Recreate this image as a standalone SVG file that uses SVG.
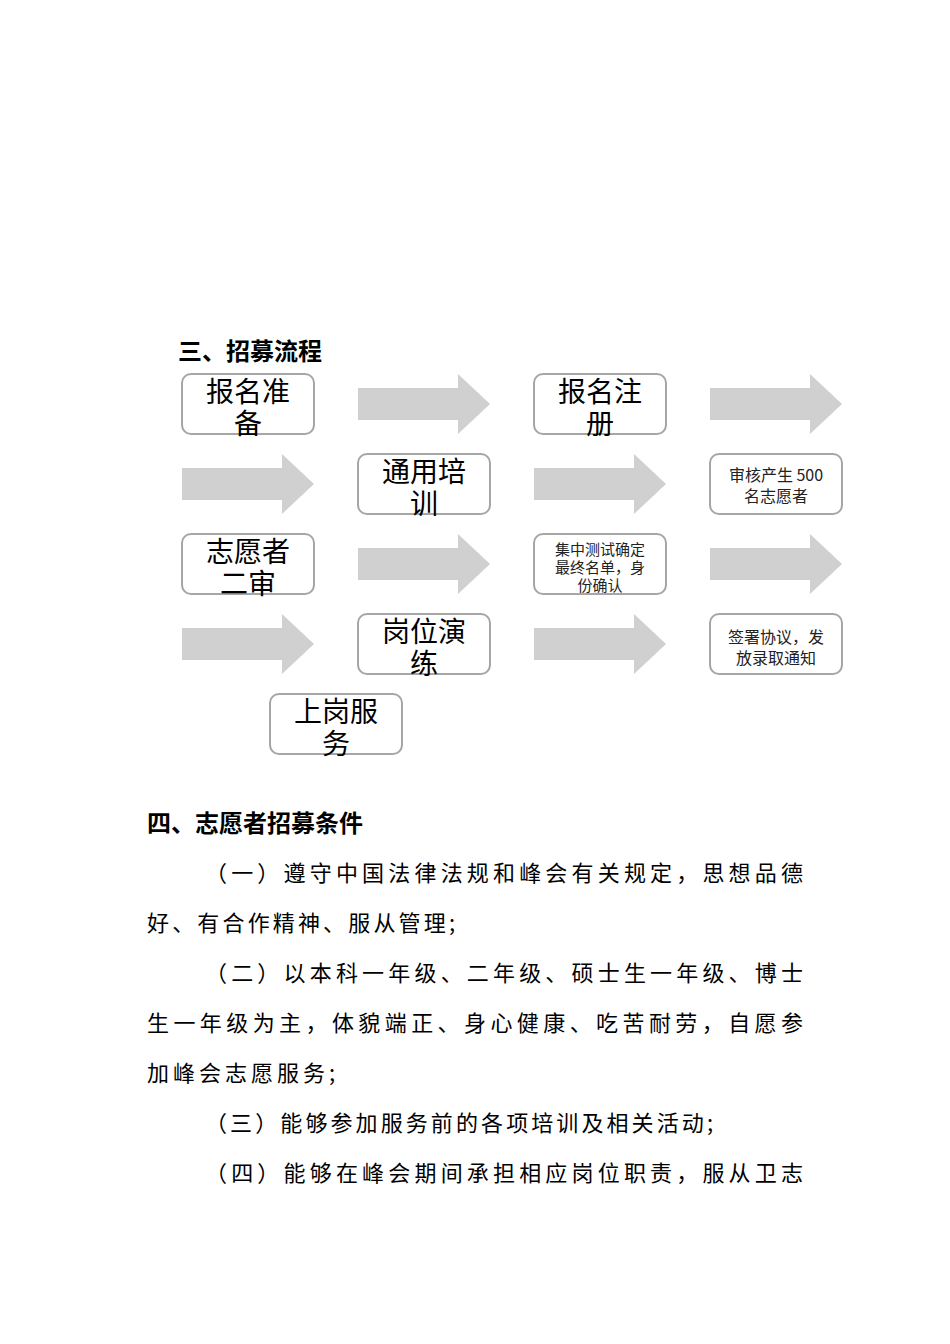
<svg xmlns="http://www.w3.org/2000/svg" width="950" height="1344" viewBox="0 0 950 1344">
<style>
.b{fill:#fff;stroke:#a6a6a6;stroke-width:2}
.a{fill:#d0d0d0}
.L{font-family:"Noto Sans CJK SC",sans-serif;font-size:28px;fill:#000;text-anchor:middle}
.S{font-family:"Noto Sans CJK SC",sans-serif;font-size:16px;fill:#222;text-anchor:middle}
.S3{font-family:"Noto Sans CJK SC",sans-serif;font-size:15px;fill:#222;text-anchor:middle}
.T{font-family:"Noto Sans CJK SC",sans-serif;font-size:22px;fill:#000}
.H{font-family:"Noto Sans CJK SC",sans-serif;font-size:24px;font-weight:bold;fill:#000}
</style>
<defs><path id="ar" class="a" d="M0,14H100V0L132,30L100,60V46H0Z"/></defs>
<text class="H" x="178" y="360">三、招募流程</text>
<g id="connectors">
<use href="#ar" x="358" y="374"/><use href="#ar" x="710" y="374"/>
<use href="#ar" x="182" y="454"/><use href="#ar" x="534" y="454"/>
<use href="#ar" x="358" y="534"/><use href="#ar" x="710" y="534"/>
<use href="#ar" x="182" y="614"/><use href="#ar" x="534" y="614"/>
</g>
<g id="n1"><rect class="b" x="182" y="374" width="132" height="60" rx="9"/><text class="L" x="248" y="402">报名准</text><text class="L" x="248" y="434">备</text></g>
<g id="n2"><rect class="b" x="534" y="374" width="132" height="60" rx="9"/><text class="L" x="600" y="402">报名注</text><text class="L" x="600" y="434">册</text></g>
<g id="n3"><rect class="b" x="358" y="454" width="132" height="60" rx="9"/><text class="L" x="424" y="482">通用培</text><text class="L" x="424" y="514">训</text></g>
<g id="n4"><rect class="b" x="710" y="454" width="132" height="60" rx="9"/><text class="S" x="776" y="481">审核产生 500</text><text class="S" x="776" y="502">名志愿者</text></g>
<g id="n5"><rect class="b" x="182" y="534" width="132" height="60" rx="9"/><text class="L" x="248" y="562">志愿者</text><text class="L" x="248" y="594">二审</text></g>
<g id="n6"><rect class="b" x="534" y="534" width="132" height="60" rx="9"/><text class="S3" x="600" y="555">集中测试确定</text><text class="S3" x="600" y="573">最终名单，身</text><text class="S3" x="600" y="591">份确认</text></g>
<g id="n7"><rect class="b" x="358" y="614" width="132" height="60" rx="9"/><text class="L" x="424" y="642">岗位演</text><text class="L" x="424" y="674">练</text></g>
<g id="n8"><rect class="b" x="710" y="614" width="132" height="60" rx="9"/><text class="S" x="776" y="643">签署协议，发</text><text class="S" x="776" y="664">放录取通知</text></g>
<g id="n9"><rect class="b" x="270" y="694" width="132" height="60" rx="9"/><text class="L" x="336" y="722">上岗服</text><text class="L" x="336" y="754">务</text></g>
<text class="H" x="147" y="832">四、志愿者招募条件</text>
<text class="T" x="205" y="881" textLength="598">（一）遵守中国法律法规和峰会有关规定，思想品德</text>
<text class="T" x="147" y="931" textLength="308">好、有合作精神、服从管理;</text>
<text class="T" x="205" y="981" textLength="598">（二）以本科一年级、二年级、硕士生一年级、博士</text>
<text class="T" x="147" y="1031" textLength="656">生一年级为主，体貌端正、身心健康、吃苦耐劳，自愿参</text>
<text class="T" x="147" y="1081" textLength="188">加峰会志愿服务;</text>
<text class="T" x="205" y="1131" textLength="508">（三）能够参加服务前的各项培训及相关活动;</text>
<text class="T" x="205" y="1181" textLength="598">（四）能够在峰会期间承担相应岗位职责，服从卫志</text>
</svg>
